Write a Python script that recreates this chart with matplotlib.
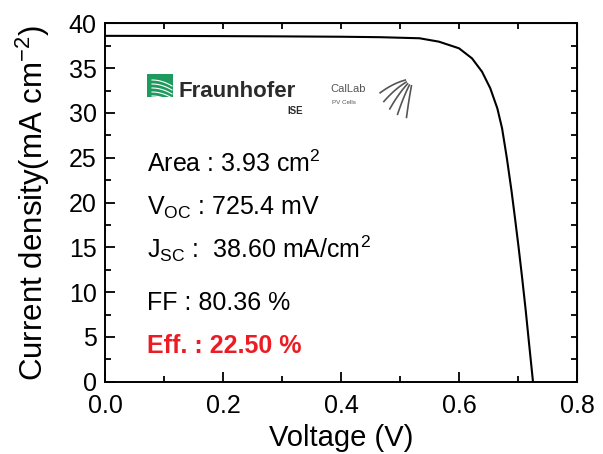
import numpy as np
import matplotlib
matplotlib.use('Agg')
import matplotlib.pyplot as plt
from matplotlib.ticker import MultipleLocator, NullFormatter
from matplotlib.patches import Rectangle

plt.rcParams['font.family'] = ['Liberation Sans', 'DejaVu Sans']
plt.rcParams['mathtext.fontset'] = 'custom'
plt.rcParams['mathtext.rm'] = 'Liberation Sans'
plt.rcParams['mathtext.it'] = 'Liberation Sans'
plt.rcParams['mathtext.bf'] = 'Liberation Sans:bold'

# J-V curve
voltage = [0.0, 0.1, 0.2, 0.3, 0.4, 0.466, 0.533, 0.566, 0.600, 0.622, 0.639,
           0.653, 0.665, 0.673, 0.681, 0.689, 0.695, 0.701, 0.707, 0.713, 0.719, 0.7254]
current = [38.60, 38.59, 38.57, 38.54, 38.50, 38.45, 38.33, 37.95, 37.21, 36.09, 34.60,
           32.75, 30.50, 28.28, 25.00, 21.30, 18.20, 15.00, 11.60, 8.00, 4.10, 0.0]

area = 3.93
voc = 725.4
jsc = 38.60
ff = 80.36
eff = 22.50

W, H = 603, 454
fig = plt.figure(figsize=(W / 100, H / 100), dpi=100)
ax = fig.add_axes([105 / W, 1 - 381.7 / H, 472 / W, 358.4 / H])

ax.plot(voltage, current, color='black', lw=1.5)
ax.set_xlim(0, 0.8)
ax.set_ylim(0, 40)

ax.xaxis.set_major_locator(MultipleLocator(0.2))
ax.xaxis.set_minor_locator(MultipleLocator(0.1))
ax.yaxis.set_major_locator(MultipleLocator(5))
ax.yaxis.set_minor_locator(MultipleLocator(2.5))
ax.xaxis.set_major_formatter(plt.FuncFormatter(lambda v, p: '%.1f' % v))
ax.tick_params(which='both', direction='in', width=1.3, labelsize=18)
ax.tick_params(axis='x', pad=9)
ax.tick_params(axis='y', pad=6)
ax.tick_params(which='major', length=7)
ax.tick_params(which='minor', length=4)
for s in ax.spines.values():
    s.set_linewidth(1.4)

# short ticks on top and right
top = ax.secondary_xaxis('top')
top.xaxis.set_major_locator(MultipleLocator(0.1))
top.xaxis.set_major_formatter(NullFormatter())
top.tick_params(direction='in', length=4, width=1.3)
right = ax.secondary_yaxis('right')
right.yaxis.set_major_locator(MultipleLocator(2.5))
right.yaxis.set_major_formatter(NullFormatter())
right.tick_params(direction='in', length=4, width=1.3)

ax.set_xlabel('Voltage (V)', fontsize=21, labelpad=4)
ax.set_ylabel(r'Current density(mA cm$^{\mathregular{-2}}$)', fontsize=22.5, labelpad=12)

# cell parameters
x0 = 0.0705
fs = 18
ax.text(x0, 23.44, 'Area : %.2f cm$^{\\mathregular{2}}$' % area, fontsize=fs)
ax.text(x0, 18.6, 'V$_{\\mathregular{OC}}$ : %.1f mV' % voc, fontsize=fs)
ax.text(x0, 13.8, 'J$_{\\mathregular{SC}}$ :  %.2f mA/cm$^{\\mathregular{2}}$' % jsc, fontsize=fs)
ax.text(x0, 8.0, 'FF : %.2f %%' % ff, fontsize=fs)
ax.text(x0, 3.17, 'Eff. : %.2f %%' % eff, fontsize=fs, fontweight='bold', color='#ec1c24')


# logos drawn in figure pixels
def fx(x):
    return x / W


def fy(y):
    return 1 - y / H


green = '#1f9a5e'
fig.patches.append(Rectangle((fx(147), fy(97)), 26 / W, 23 / H, transform=fig.transFigure,
                             facecolor=green, edgecolor='none'))
for k in range(5):
    t = np.linspace(0, 1, 20)
    yy = 80 + k * 4 + 6 * t ** 2
    fig.lines.append(plt.Line2D(fx(152 + 20 * t), fy(yy), transform=fig.transFigure,
                                color='white', lw=0.8))
fig.text(fx(178), fy(97), 'Fraunhofer', fontsize=16, fontweight='bold', color='#2b2b2b')
fig.text(fx(287), fy(114), 'ISE', fontsize=7, fontweight='bold', color='#2b2b2b')
fig.text(fx(330), fy(92), 'CalLab', fontsize=8, color='#555555')
fig.text(fx(332), fy(104), 'PV Cells', fontsize=4.5, color='#555555')
for k in range(5):
    a = np.linspace(0, 1, 20)
    cx, cy = 413, 78
    th = np.radians(195 + k * 16)
    xs = cx + (8 + 26 * a) * np.cos(th)
    ys = cy - (8 + 26 * a) * np.sin(th) + 6 * a ** 2
    fig.lines.append(plt.Line2D(fx(xs), fy(ys), transform=fig.transFigure,
                                color='#555555', lw=1.2))

fig.savefig('out.png', dpi=100, facecolor='white')
